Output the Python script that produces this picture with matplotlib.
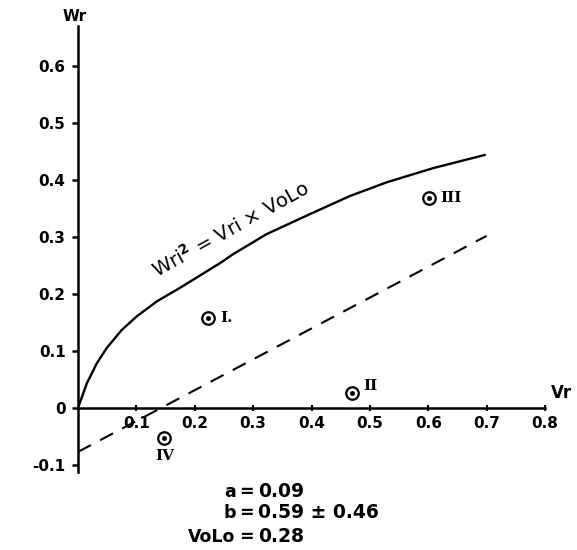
import matplotlib
matplotlib.use("Agg")
import matplotlib.pyplot as plt

# ---- data ----
curve_vr = [0.0, 0.015, 0.032, 0.049, 0.075, 0.101, 0.135, 0.175, 0.213,
            0.243, 0.266, 0.323, 0.397, 0.466, 0.529, 0.609, 0.697]
curve_wr = [0.0, 0.043, 0.078, 0.105, 0.137, 0.161, 0.187, 0.211, 0.235,
            0.254, 0.270, 0.305, 0.340, 0.372, 0.396, 0.421, 0.444]
fit_vr = [0.0, 0.70]
fit_wr = [-0.077, 0.302]
pt_vr = [0.222, 0.469, 0.602, 0.148]
pt_wr = [0.158, 0.026, 0.368, -0.053]
pt_labels = ["I.", "II", "III", "IV"]
xticks = [0.1, 0.2, 0.3, 0.4, 0.5, 0.6, 0.7, 0.8]
xticklabels = ["0.1", "0.2", "0.3", "0.4", "0.5", "0.6", "0.7", "0.8"]
yticks = [-0.1, 0.0, 0.1, 0.2, 0.3, 0.4, 0.5, 0.6]
yticklabels = ["-0.1", "0", "0.1", "0.2", "0.3", "0.4", "0.5", "0.6"]
params = [("a", "0.09"), ("b", "0.59 ± 0.46"), ("VoLo", "0.28")]

W, H = 577, 550
fig = plt.figure(figsize=(W / 100, H / 100), dpi=100)
ax = fig.add_axes([0, 0, 1, 1])
xs = 583.75
ys = 570.0
ax.set_xlim(-78 / xs, (W - 78) / xs)
ax.set_ylim(-(H - 408) / ys, 408 / ys)

fs = 11
font = dict(family="DejaVu Sans", weight="bold", fontsize=fs)

for s in ["top", "right"]:
    ax.spines[s].set_visible(False)
ax.spines["left"].set_position(("data", 0))
ax.spines["bottom"].set_position(("data", 0))
ax.spines["left"].set_bounds(-0.112, 0.67)
ax.spines["bottom"].set_bounds(0, 0.8)
ax.spines["left"].set_linewidth(1.8)
ax.spines["bottom"].set_linewidth(1.8)

ax.set_xticks(xticks)
ax.set_xticklabels(xticklabels, **font)
ax.set_yticks(yticks)
ax.set_yticklabels(yticklabels, **font)
ax.tick_params(axis="y", direction="out", length=4, width=1.8, pad=5)
ax.tick_params(axis="x", direction="inout", length=5, width=1.5, pad=3)

ax.plot(curve_vr, curve_wr, color="black", lw=1.7, solid_capstyle="round",
        solid_joinstyle="round")
ax.plot(fit_vr, fit_wr, color="black", lw=1.5, dashes=(7, 5))

ax.plot(pt_vr, pt_wr, "o", ms=9, mfc="none", mec="black", mew=1.6)
ax.plot(pt_vr, pt_wr, "o", ms=2.5, color="black")

offsets = [(9, 0, "left", "center"), (8, 5, "left", "center"),
           (8, 0, "left", "center"), (0, -13, "center", "center")]
for x, y, lab, (dx, dy, ha, va) in zip(pt_vr, pt_wr, pt_labels, offsets):
    ax.annotate(lab, (x, y), xytext=(dx, dy), textcoords="offset points",
                ha=ha, va=va, family="DejaVu Serif", weight="bold", fontsize=fs)

ax.text(0.262, 0.314, "Wri$^{\\mathbf{2}}$ = Vri × VoLo", rotation=29,
        ha="center", va="center", family="DejaVu Sans", fontsize=14)

ax.text(-0.005, 0.686, "Wr", ha="center", va="center", **font)
ax.text(0.828, 0.027, "Vr", ha="center", va="center", family="DejaVu Sans",
        weight="bold", fontsize=fs + 1)

row_y = [-0.147, -0.184, -0.226]
for (k, v), y in zip(params, row_y):
    ax.text(0.270, y, k, ha="right", va="center", family="DejaVu Sans",
            weight="bold", fontsize=12.5)
    ax.text(0.288, y, "=", ha="center", va="center", family="DejaVu Sans",
            weight="bold", fontsize=12.5)
    ax.text(0.308, y, v, ha="left", va="center", family="DejaVu Sans",
            weight="bold", fontsize=13.5)

fig.savefig("out.png", dpi=100)
